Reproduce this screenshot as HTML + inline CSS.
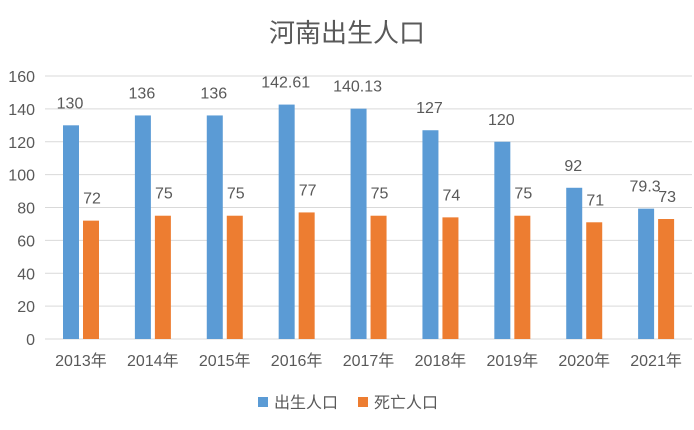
<!DOCTYPE html>
<html><head><meta charset="utf-8"><style>
body{margin:0;background:#fff;}
text{font-family:"Liberation Sans","Noto Sans CJK SC",sans-serif;fill:#595959;}
</style></head><body>
<svg width="694" height="425" viewBox="0 0 694 425">
<text x="347" y="42" text-anchor="middle" font-size="26">河南出生人口</text>
<g id="grid"></g><g id="bars"></g><g id="labels"></g>
<g>
<rect x="258" y="397" width="10" height="10" fill="#5B9BD5"/>
<text x="274" y="408" font-size="16">出生人口</text>
<rect x="358" y="397" width="10" height="10" fill="#ED7D31"/>
<text x="374" y="408" font-size="16">死亡人口</text>
</g>
</svg>
<script>
const categories=["2013年","2014年","2015年","2016年","2017年","2018年","2019年","2020年","2021年"];
const births=[130,136,136,142.61,140.13,127,120,92,79.3];
const deaths=[72,75,75,77,75,74,75,71,73];
const birthLabels=["130","136","136","142.61","140.13","127","120","92","79.3"];
const deathLabels=["72","75","75","77","75","74","75","71","73"];
const yTicks=[0,20,40,60,80,100,120,140,160];
const NS="http://www.w3.org/2000/svg";
const x0=45,x1=692,yBase=339,yTop=76,yMax=160;
const band=(x1-x0)/categories.length;
const y=v=>yBase-(v/yMax)*(yBase-yTop);
function mk(tag,attrs,parent){const e=document.createElementNS(NS,tag);for(const k in attrs)e.setAttribute(k,attrs[k]);parent.appendChild(e);return e;}
const grid=document.getElementById('grid'),bars=document.getElementById('bars'),labels=document.getElementById('labels');
yTicks.forEach(t=>{
 const l=mk('line',{x1:x0,x2:x1,y1:y(t),y2:y(t),stroke:'#D9D9D9','stroke-width':1},grid);
 
 
 const tx=mk('text',{x:35,y:y(t)+6,'text-anchor':'end','font-size':16},grid);
 tx.textContent=t;
 
 
});
categories.forEach((c,i)=>{
 const bx=x0+band*i+18, ox=bx+20;
 const b=mk('rect',{x:bx,y:y(births[i]),width:16,height:yBase-y(births[i]),fill:'#5B9BD5'},bars);
 
 
 const o=mk('rect',{x:ox,y:y(deaths[i]),width:16,height:yBase-y(deaths[i]),fill:'#ED7D31'},bars);
 
 
 const bl=mk('text',{x:bx+7,y:y(births[i])-17,'text-anchor':'middle','font-size':16},labels);
 bl.textContent=birthLabels[i];
 
 
 const dl=mk('text',{x:ox+9,y:y(deaths[i])-17,'text-anchor':'middle','font-size':16},labels);
 dl.textContent=deathLabels[i];
 
 
 const xl=mk('text',{x:x0+band*(i+0.5),y:366,'text-anchor':'middle','font-size':16},labels);
 xl.textContent=c;
 
 
});
</script>
</body></html>
